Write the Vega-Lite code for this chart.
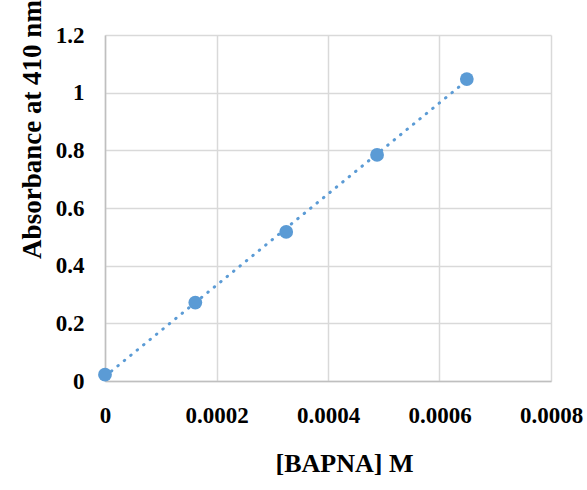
{
  "$schema": "https://vega.github.io/schema/vega-lite/v6.json",
  "width": 446,
  "height": 346,
  "autosize": "none",
  "padding": {"left": 105, "top": 35, "right": 36, "bottom": 109},
  "background": "white",
  "config": {
    "view": {"stroke": null},
    "font": "Liberation Serif"
  },
  "datasets": {
    "points": [
      {"conc": 0.0, "abs": 0.022},
      {"conc": 0.000162, "abs": 0.272},
      {"conc": 0.000325, "abs": 0.517},
      {"conc": 0.000488, "abs": 0.784},
      {"conc": 0.000649, "abs": 1.047}
    ],
    "trend": [
      {"conc": 0.0, "abs": 0.016},
      {"conc": 0.000649, "abs": 1.042}
    ]
  },
  "encoding": {
    "x": {
      "field": "conc",
      "type": "quantitative",
      "scale": {"domain": [0, 0.0008], "nice": false, "zero": false},
      "axis": {
        "title": "[BAPNA] M",
        "values": [0, 0.0002, 0.0004, 0.0006, 0.0008],
        "format": ".4~f",
        "grid": true,
        "gridColor": "#d9d9d9",
        "gridWidth": 1.5,
        "domainColor": "#bfbfbf",
        "domainWidth": 1.5,
        "ticks": false,
        "labelFont": "Liberation Serif",
        "labelFontWeight": "bold",
        "labelFontSize": 23,
        "labelColor": "black",
        "labelPadding": 34,
        "labelBaseline": "middle",
        "labelFlush": false,
        "titleFont": "Liberation Serif",
        "titleFontWeight": "bold",
        "titleFontSize": 26,
        "titleColor": "black",
        "titleX": 239,
        "titleY": 90,
        "titleBaseline": "alphabetic",
        "titleAnchor": "middle"
      }
    },
    "y": {
      "field": "abs",
      "type": "quantitative",
      "scale": {"domain": [0, 1.2], "nice": false},
      "axis": {
        "title": "Absorbance at 410 nm",
        "values": [0, 0.2, 0.4, 0.6, 0.8, 1, 1.2],
        "format": ".1~f",
        "grid": true,
        "gridColor": "#d9d9d9",
        "gridWidth": 1.5,
        "domainColor": "#bfbfbf",
        "domainWidth": 1.5,
        "ticks": false,
        "labelFont": "Liberation Serif",
        "labelFontWeight": "bold",
        "labelFontSize": 23,
        "labelColor": "black",
        "labelPadding": 21,
        "labelFlush": false,
        "titleFont": "Liberation Serif",
        "titleFontWeight": "bold",
        "titleFontSize": 27,
        "titleColor": "black",
        "titleX": -65,
        "titleY": 94,
        "titleAngle": -90,
        "titleBaseline": "alphabetic",
        "titleAnchor": "middle"
      }
    }
  },
  "layer": [
    {
      "data": {"name": "trend"},
      "mark": {"type": "line", "color": "#5b9bd5", "strokeWidth": 3, "strokeDash": [0.5, 7.8], "strokeCap": "round"}
    },
    {
      "data": {"name": "points"},
      "mark": {"type": "circle", "color": "#5b9bd5", "size": 190, "opacity": 1}
    }
  ]
}
